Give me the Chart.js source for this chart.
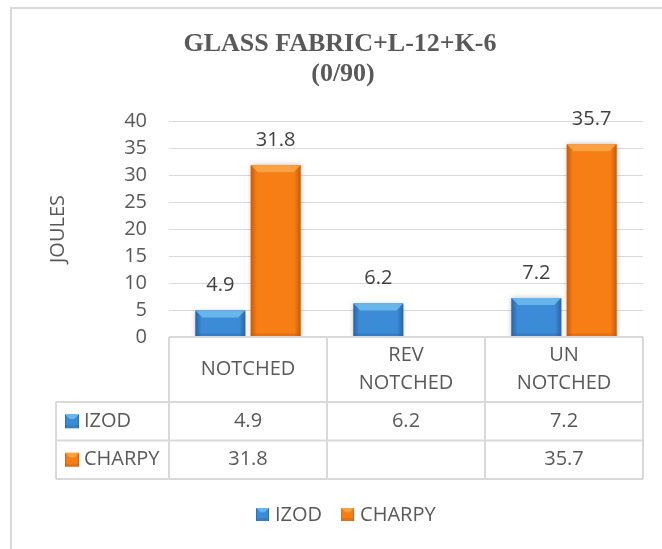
<!DOCTYPE html>
<html>
<head>
<meta charset="utf-8">
<title>GLASS FABRIC+L-12+K-6 (0/90)</title>
<script src="https://cdn.jsdelivr.net/npm/chart.js@4.4.1/dist/chart.umd.min.js"></script>
<style>
  html, body { margin: 0; padding: 0; background: #ffffff; }
  #wrap { position: relative; width: 662px; height: 549px; }
</style>
</head>
<body>
<div id="wrap"><canvas id="chartCanvas" width="662" height="549"></canvas></div>
<script>
(function() {
  'use strict';

  // chart data
  var titleLines = ['GLASS FABRIC+L-12+K-6', '(0/90)'];
  var categories = [['NOTCHED'], ['REV', 'NOTCHED'], ['UN', 'NOTCHED']];
  var seriesNames = ['IZOD', 'CHARPY'];
  var izodValues = [4.9, 6.2, 7.2];
  var charpyValues = [31.8, null, 35.7];
  var yMax = 40;
  var yStep = 5;
  var yTitle = 'JOULES';

  var TEXT = '#595959';
  var GRID = '#d9d9d9';
  var FONT = '"Open Sans", "Noto Sans", sans-serif';
  var barColors = {
    IZOD: { main: '#3b8bd6', light: '#7cc8f4', dark: '#2a64a6' },
    CHARPY: { main: '#f77d15', light: '#fbb057', dark: '#c85a0b' }
  };

  function drawBevel(ctx, x0, y0, w, h, col) {
    var g = ctx.createLinearGradient(x0, 0, x0 + w, 0);
    g.addColorStop(0, col.dark);
    g.addColorStop(0.12, col.main);
    g.addColorStop(0.88, col.main);
    g.addColorStop(1, col.dark);
    ctx.fillStyle = g;
    ctx.fillRect(x0, y0, w, h);
    var b = Math.min(7, h / 3);
    ctx.fillStyle = col.light;
    ctx.globalAlpha = 0.7;
    ctx.beginPath();
    ctx.moveTo(x0, y0);
    ctx.lineTo(x0 + w, y0);
    ctx.lineTo(x0 + w - b, y0 + b);
    ctx.lineTo(x0 + b, y0 + b);
    ctx.closePath();
    ctx.fill();
    ctx.globalAlpha = 0.35;
    ctx.fillStyle = col.dark;
    ctx.fillRect(x0, y0 + h - 3, w, 3);
    ctx.globalAlpha = 1;
  }

  var decorPlugin = {
    id: 'decor',
    beforeDraw: function(chart) {
      var ctx = chart.ctx;
      ctx.save();
      ctx.strokeStyle = GRID;
      ctx.lineWidth = 2;
      ctx.beginPath();
      ctx.moveTo(11, 560);
      ctx.lineTo(11, 8);
      ctx.lineTo(670, 8);
      ctx.stroke();

      ctx.fillStyle = TEXT;
      ctx.font = 'bold 26px "Liberation Serif", "Times New Roman", serif';
      ctx.textAlign = 'center';
      ctx.textBaseline = 'middle';
      ctx.fillText(titleLines[0], 340, 44);
      ctx.fillText(titleLines[1], 343, 74);
      ctx.restore();
    },
    beforeDatasetsDraw: function(chart) {
      chart.ctx.save();
      chart.ctx.shadowColor = 'rgba(0,0,0,0.28)';
      chart.ctx.shadowBlur = 5;
    },
    afterDatasetsDraw: function(chart) {
      var ctx = chart.ctx;
      ctx.restore();
      ctx.save();
      chart.data.datasets.forEach(function(ds, di) {
        var meta = chart.getDatasetMeta(di);
        var col = barColors[ds.label];
        meta.data.forEach(function(el, i) {
          var v = ds.data[i];
          if (v === null || v === undefined) return;
          var p = el.getProps(['x', 'y', 'base', 'width'], true);
          drawBevel(ctx, p.x - p.width / 2, p.y, p.width, p.base - p.y, col);
          ctx.fillStyle = '#404040';
          ctx.font = '20px ' + FONT;
          ctx.textAlign = 'center';
          ctx.textBaseline = 'middle';
          ctx.fillText(String(v), p.x, p.y - 25);
        });
      });
      ctx.restore();
    },
    afterDraw: function(chart) {
      var ctx = chart.ctx;
      var area = chart.chartArea;
      var xs = chart.scales.x;
      var step = xs.getPixelForValue(1) - xs.getPixelForValue(0);
      var colEdges = [area.left];
      categories.forEach(function(c, i) {
        colEdges.push(xs.getPixelForValue(i) + step / 2);
      });
      var tableLeft = 56;
      var headTop = area.bottom;
      var headBottom = headTop + 65;
      var rowH = 38.5;
      var rowTops = [headBottom, headBottom + rowH, headBottom + 2 * rowH];

      ctx.save();
      ctx.strokeStyle = GRID;
      ctx.lineWidth = 2;
      ctx.beginPath();
      // header row
      ctx.moveTo(area.left, headTop);
      ctx.lineTo(colEdges[colEdges.length - 1], headTop);
      colEdges.forEach(function(x) {
        ctx.moveTo(x, headTop);
        ctx.lineTo(x, rowTops[2]);
      });
      rowTops.forEach(function(y) {
        ctx.moveTo(tableLeft, y);
        ctx.lineTo(colEdges[colEdges.length - 1], y);
      });
      ctx.moveTo(tableLeft, rowTops[0]);
      ctx.lineTo(tableLeft, rowTops[2]);
      ctx.stroke();

      ctx.fillStyle = TEXT;
      ctx.font = '20px ' + FONT;
      ctx.textAlign = 'center';
      ctx.textBaseline = 'middle';
      categories.forEach(function(lines, i) {
        var cx = xs.getPixelForValue(i);
        var mid = (headTop + headBottom) / 2;
        var lh = 28;
        lines.forEach(function(t, k) {
          ctx.fillText(t, cx, mid + (k - (lines.length - 1) / 2) * lh);
        });
      });

      var seriesData = [izodValues, charpyValues];
      seriesNames.forEach(function(name, r) {
        var cy = rowTops[r] + rowH / 2;
        var col = barColors[name];
        drawBevel(ctx, 65, cy - 7, 14, 14, col);
        ctx.fillStyle = TEXT;
        ctx.textAlign = 'left';
        ctx.fillText(name, 84, cy);
        ctx.textAlign = 'center';
        seriesData[r].forEach(function(v, i) {
          if (v === null) return;
          ctx.fillText(String(v), xs.getPixelForValue(i), cy);
        });
      });

      // legend
      var ly = 515;
      var lx = 256;
      seriesNames.forEach(function(name) {
        drawBevel(ctx, lx, ly - 7, 13, 13, barColors[name]);
        ctx.fillStyle = TEXT;
        ctx.textAlign = 'left';
        ctx.fillText(name, lx + 19, ly);
        lx += 19 + ctx.measureText(name).width + 19;
      });
      ctx.restore();
    }
  };

  function init() {
    var ctx = document.getElementById('chartCanvas').getContext('2d');
    new Chart(ctx, {
      type: 'bar',
      data: {
        labels: categories,
        datasets: [
          {
            label: seriesNames[0],
            data: izodValues,
            backgroundColor: barColors.IZOD.main
          },
          {
            label: seriesNames[1],
            data: charpyValues,
            backgroundColor: barColors.CHARPY.main
          }
        ]
      },
      options: {
        responsive: false,
        animation: false,
        layout: { padding: { left: 0, top: 121, right: 19, bottom: 212 } },
        datasets: { bar: { categoryPercentage: 0.7, barPercentage: 0.9 } },
        plugins: {
          legend: { display: false },
          title: { display: false },
          tooltip: { enabled: false }
        },
        scales: {
          x: { display: false },
          y: {
            min: 0,
            max: yMax,
            afterFit: function(scale) { scale.width = 169; },
            border: { display: false },
            grid: { color: GRID, lineWidth: 1, drawTicks: false },
            ticks: {
              stepSize: yStep,
              padding: 22,
              color: TEXT,
              font: { family: FONT, size: 20 }
            },
            title: {
              display: true,
              text: yTitle,
              color: TEXT,
              font: { family: FONT, size: 20 },
              padding: { top: 46, bottom: 0 }
            }
          }
        }
      },
      plugins: [decorPlugin]
    });
  }

  document.addEventListener('DOMContentLoaded', init);
})();
</script>
</body>
</html>
